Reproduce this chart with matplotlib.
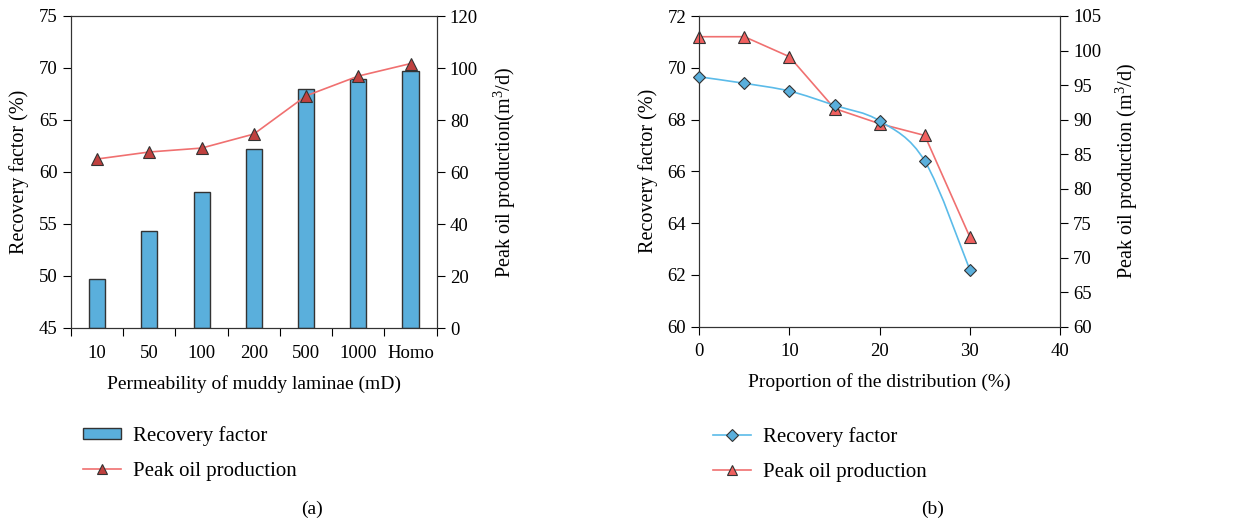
import matplotlib
matplotlib.use("Agg")
import matplotlib.pyplot as plt
from matplotlib.path import Path
from matplotlib.patches import PathPatch, Patch
from matplotlib.lines import Line2D
import numpy as np

plt.rcParams['font.family'] = ['Liberation Serif', 'DejaVu Serif']
plt.rcParams['mathtext.fontset'] = 'custom'
plt.rcParams['mathtext.rm'] = 'Liberation Serif'
plt.rcParams['mathtext.it'] = 'Liberation Serif:italic'
plt.rcParams['font.size'] = 13.5

# ---- datos panel (a)
permeabilidad = ['10', '50', '100', '200', '500', '1000', 'Homo']
recobro_a = [49.7, 54.3, 58.1, 62.2, 68.0, 68.9, 69.7]
pico_a = [65.0, 67.7, 69.2, 74.6, 89.3, 96.9, 101.7]

# ---- datos panel (b)
proporcion = [0, 5, 10, 15, 20, 25, 30]
recobro_b = [69.65, 69.4, 69.1, 68.55, 67.95, 66.4, 62.2]
pico_b = [102.0, 102.0, 99.1, 91.6, 89.4, 87.7, 73.0]

azul_barra = '#5aafdc'
azul_linea = '#5bbbe9'
rojo_linea = '#f07070'
rojo_osc = '#c0413f'
rojo_tri = '#f0605f'
borde = '#333333'
fs_ylab = 14.5
fs_xlab = 14
fs_ley = 15


def curva_suave(ax, x, y, **kw):
    # spline tipo Catmull-Rom dibujada como bezier cubica
    p = np.column_stack([x, y]).astype(float)
    p_ext = np.vstack([p[0], p, p[-1]])
    verts = [tuple(p[0])]
    codes = [Path.MOVETO]
    for i in range(1, len(p_ext) - 2):
        c1 = p_ext[i] + (p_ext[i + 1] - p_ext[i - 1]) / 6
        c2 = p_ext[i + 1] - (p_ext[i + 2] - p_ext[i]) / 6
        verts += [tuple(c1), tuple(c2), tuple(p_ext[i + 1])]
        codes += [Path.CURVE4] * 3
    ax.add_patch(PathPatch(Path(verts, codes), fill=False, **kw))


fig = plt.figure(figsize=(12.39, 5.22), dpi=100)
W, H = 1239, 522

# ---------------- panel (a)
ax1 = fig.add_axes([71 / W, 1 - 328 / H, (436.7 - 71) / W, 312 / H])
xa = np.arange(len(permeabilidad))
ax1.bar(xa, [v - 45 for v in recobro_a], bottom=45, width=0.31,
        color=azul_barra, edgecolor=borde, linewidth=1.0, zorder=2)
ax1.set_ylim(45, 75)
ax1.set_xlim(-0.5, len(permeabilidad) - 0.5)
ax1.set_yticks(range(45, 76, 5))
ax1.set_xticks(np.arange(-0.5, len(permeabilidad), 1))
ax1.set_xticklabels([])
ax1.set_xticks(xa, minor=True)
ax1.set_xticklabels(permeabilidad, minor=True)
ax1.tick_params(axis='x', which='minor', length=0, pad=12)
ax1.tick_params(axis='x', which='major', length=6, direction='out')
ax1.tick_params(axis='y', length=6, direction='out')
ax1.set_ylabel('Recovery factor (%)', labelpad=7, fontsize=fs_ylab)
ax1.set_xlabel('Permeability of muddy laminae (mD)', labelpad=10, fontsize=fs_xlab)

ax1b = ax1.twinx()
ax1b.plot(xa, pico_a, color=rojo_linea, lw=1.2, marker='^', ms=8,
          mfc=rojo_osc, mec=borde, mew=0.8, zorder=3)
ax1b.set_ylim(0, 120)
ax1b.set_yticks(range(0, 121, 20))
ax1b.tick_params(axis='y', length=6, direction='out')
ax1b.set_ylabel('Peak oil production(m$^3$/d)', labelpad=10, fontsize=fs_ylab)

for a in (ax1, ax1b):
    for s in a.spines.values():
        s.set_color(borde)

# ---------------- panel (b)
ax2 = fig.add_axes([699.3 / W, 1 - 326.7 / H, (1060 - 699.3) / W, 310.7 / H])
curva_suave(ax2, proporcion, recobro_b, color=azul_linea, lw=1.2, zorder=2)
ax2.plot(proporcion, recobro_b, ls='none', marker='D', ms=6,
         mfc=azul_barra, mec=borde, mew=0.8, clip_on=False, zorder=4)
ax2.set_xlim(0, 40)
ax2.set_ylim(60, 72)
ax2.set_xticks(range(0, 41, 10))
ax2.set_yticks(range(60, 73, 2))
ax2.tick_params(length=6, direction='out')
ax2.tick_params(axis='x', pad=6)
ax2.set_ylabel('Recovery factor (%)', labelpad=7, fontsize=fs_ylab)
ax2.set_xlabel('Proportion of the distribution (%)', labelpad=9, fontsize=fs_xlab)

ax2b = ax2.twinx()
ax2b.plot(proporcion, pico_b, color=rojo_linea, lw=1.2, marker='^', ms=8,
          mfc=rojo_tri, mec=borde, mew=0.8, clip_on=False, zorder=3)
ax2b.set_ylim(60, 105)
ax2b.set_yticks(range(60, 106, 5))
ax2b.tick_params(axis='y', length=6, direction='out')
ax2b.set_ylabel('Peak oil production (m$^3$/d)', labelpad=9, fontsize=fs_ylab)
ax2.set_zorder(ax2b.get_zorder() + 1)
ax2.patch.set_visible(False)

for a in (ax2, ax2b):
    for s in a.spines.values():
        s.set_color(borde)

# ---------------- leyendas
h_a = [Patch(facecolor=azul_barra, edgecolor=borde, linewidth=1.0),
       Line2D([], [], color=rojo_linea, lw=1.2, marker='^', ms=7,
              mfc=rojo_osc, mec=borde, mew=0.8)]
fig.legend(h_a, ['Recovery factor', 'Peak oil production'],
           loc='upper left', bbox_to_anchor=(83 / W, 1 - 426 / H),
           frameon=False, handlelength=1.8, handleheight=0.4,
           labelspacing=0.75, handletextpad=0.62, fontsize=fs_ley,
           borderpad=0, borderaxespad=0)

h_b = [Line2D([], [], color=azul_linea, lw=1.2, marker='D', ms=6,
              mfc=azul_barra, mec=borde, mew=0.8),
       Line2D([], [], color=rojo_linea, lw=1.2, marker='^', ms=7,
              mfc=rojo_tri, mec=borde, mew=0.8)]
fig.legend(h_b, ['Recovery factor', 'Peak oil production'],
           loc='upper left', bbox_to_anchor=(713 / W, 1 - 427 / H),
           frameon=False, handlelength=1.8,
           labelspacing=0.75, handletextpad=0.62, fontsize=fs_ley,
           borderpad=0, borderaxespad=0)

fig.text(312 / W, 1 - 509 / H, '(a)', ha='center', va='center', fontsize=14)
fig.text(933 / W, 1 - 509 / H, '(b)', ha='center', va='center', fontsize=14)

fig.savefig('out.png', dpi=100)
